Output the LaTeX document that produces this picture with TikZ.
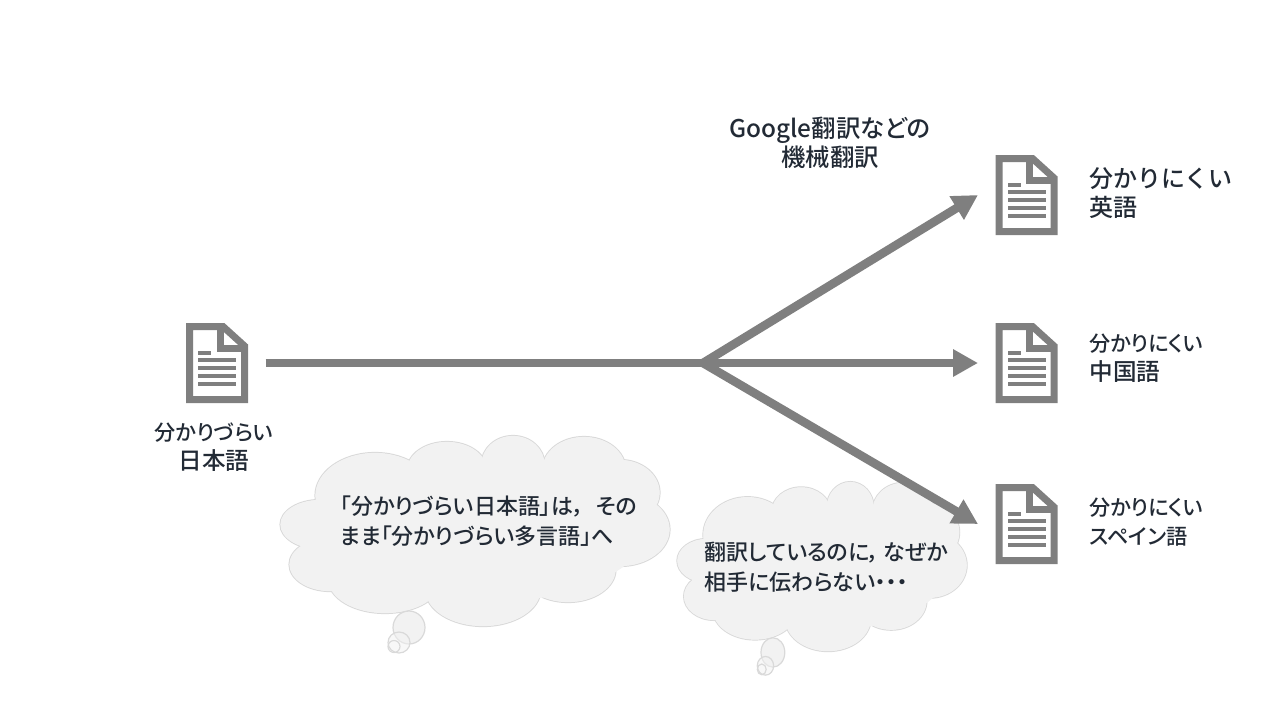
\documentclass[tikz,border=0pt]{standalone}
\usepackage{fontspec}
\setmainfont[RawFeature=+palt, UprightFont=* Medium]{Noto Sans CJK JP}
\newfontfamily\widejp[UprightFont=* Medium]{Noto Sans CJK JP}
\newcommand{\kanjiline}{\fontsize{11.8}{14.5}\selectfont}
\usetikzlibrary{arrows.meta}
\definecolor{flowgray}{HTML}{7F7F7F}
\definecolor{cloudfill}{HTML}{F2F2F2}
\definecolor{cloudline}{HTML}{D9D9D9}
\definecolor{inktext}{HTML}{222A35}
\tikzset{
	docbox/.style={shape=rectangle, minimum width=30.5pt, minimum height=40pt, inner sep=0pt, outer sep=9pt},
	flow/.style={color=flowgray, line width=4.3pt, -{Triangle[length=12.5pt,width=13pt]}},
	trunk/.style={color=flowgray, line width=4.3pt},
	smalltext/.style={text=inktext, font=\fontsize{10.6}{14.5}\selectfont, align=left, anchor=west, inner sep=0pt},
	notetext/.style={text=inktext, font=\fontsize{11}{15}\selectfont, align=left, anchor=west, inner sep=0pt},
	bigtext/.style={text=inktext, font=\fontsize{12.2}{14.5}\selectfont, align=center, inner sep=0pt},
	docicon/.pic={
		\draw[flowgray, line width=3.5pt, fill=white, line join=miter]
			(-27.5,-36.5) -- (6,-36.5) -- (27.5,-17) -- (27.5,36.5) -- (-27.5,36.5) -- cycle;
		\draw[flowgray, line width=3.5pt, line join=miter] (3,-36.5) -- (3,-14.5) -- (27.5,-14.5);
		\fill[flowgray] (-19,-12) rectangle (-6,-8);
		\foreach \liney in {-3,5,13,21} {
			\fill[flowgray] (-19,\liney-2) rectangle (19,\liney+2);
		}
	},
	cloudpic/.pic={
		\foreach \cx/\cy/\rx/\ry in {-100/-36/60/43, -28/-62/40/28, 38/-67/32/29, 109/-62/42/33, 145/-39/40/33,
			145/-2/50/37, 93/38/48/33, 8/58/58/37, -90/48/57/34, -145/33/41/27, -155/-7/40/25} {
			\draw[cloudline, line width=0.6pt] (\cx,\cy) ellipse [x radius=\rx, y radius=\ry];
		}
		\fill[cloudfill] (0,0) ellipse [x radius=170, y radius=72];
		\foreach \cx/\cy/\rx/\ry in {-100/-36/60/43, -28/-62/40/28, 38/-67/32/29, 109/-62/42/33, 145/-39/40/33,
			145/-2/50/37, 93/38/48/33, 8/58/58/37, -90/48/57/34, -145/33/41/27, -155/-7/40/25} {
			\fill[cloudfill] (\cx,\cy) ellipse [x radius=\rx-0.4, y radius=\ry-0.4];
		}
		\draw[cloudline, fill=cloudfill, line width=0.6pt] (-66,96) ellipse [x radius=16, y radius=16.5];
		\draw[cloudline, fill=cloudfill, fill opacity=0.5, line width=0.6pt] (-76,111) ellipse [x radius=11, y radius=10.5];
		\draw[cloudline, line width=0.6pt] (-81,115) ellipse [x radius=6, y radius=6];
	}
}
\begin{document}
\begin{tikzpicture}[x=0.5pt, y=-0.5pt]
	\useasboundingbox (0,0) rectangle (1280,720);
	
	\pic at (475,531.5) {cloudpic};
	\pic[xscale=0.744, yscale=0.89] at (822,567) {cloudpic};
	
	\node (docsrc)[docbox] at (217,363) {};
	\node (docen)[docbox] at (1026.5,195) {};
	\node (doczh)[docbox] at (1026.5,363) {};
	\node (doces)[docbox] at (1026.5,524) {};
	\coordinate (hub) at (703,363);
	
	\pic at (docsrc) {docicon};
	\pic at (docen) {docicon};
	\pic at (doczh) {docicon};
	\pic at (doces) {docicon};
	
	\draw[trunk] (docsrc) -- (hub);
	\draw[flow] (hub) -- (docen.west);
	\draw[flow] (hub) -- (doczh.west);
	\draw[flow] (hub) -- (doces.west);
	
	\node (srclabel)[smalltext, anchor=center, align=center] at (214,447.5) {
		分かりづらい \\ {\kanjiline 日本語}
	};
	\node (mtlabel)[bigtext] at (830,142.5) {
		Google翻訳などの \\ 機械翻訳
	};
	\node (enlabel)[smalltext, font=\widejp\fontsize{12}{14.5}\selectfont] at (1089,193.5) {
		分かりにくい \\ 英語
	};
	\node (zhlabel)[smalltext] at (1089,358.5) {
		分かりにくい \\ {\kanjiline 中国語}
	};
	\node (eslabel)[smalltext] at (1089,522.5) {
		分かりにくい \\ スペイン語
	};
	\node (note1)[notetext] at (340,521) {
		「分かりづらい日本語」は，\hspace{6pt}その \\ まま「分かりづらい多言語」へ
	};
	\node (note2)[notetext] at (704,567) {
		翻訳しているのに，\hspace{2pt}なぜか \\ 相手に伝わらない・・・
	};
\end{tikzpicture}
\end{document}
